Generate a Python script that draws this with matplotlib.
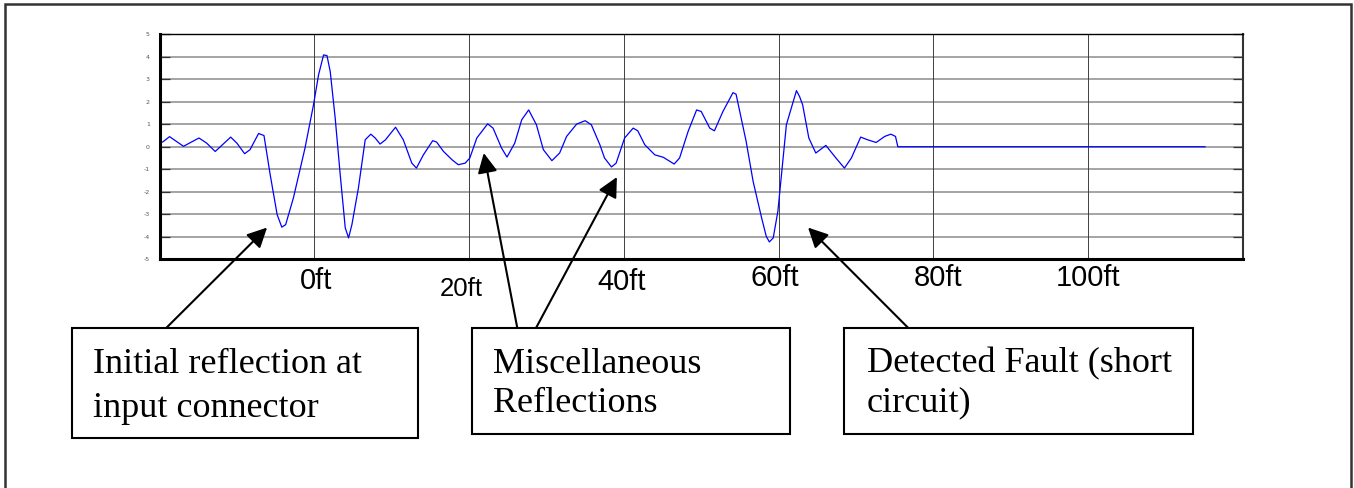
import matplotlib
matplotlib.use("Agg")
import matplotlib.pyplot as plt
import matplotlib.patches as patches
import matplotlib.transforms as mtransforms

plt.rcParams["axes.unicode_minus"] = False

# trace (distance in ft, amplitude)
distance = [-19.6, -18.7, -16.9, -14.9, -13.9, -12.8, -10.8, -10.0, -9.0, -8.3,
            -7.2, -6.5, -5.7, -4.8, -4.2, -3.7, -2.7, -1.8, -1.2, -0.1,
            0.55, 1.2, 1.64, 2.06, 2.7, 3.35, 4.0, 4.43, 4.86, 5.7,
            6.58, 7.3, 7.87, 8.5, 9.2, 10.5, 11.5, 12.6, 13.2, 14.1,
            15.3, 15.8, 16.7, 17.8, 18.6, 19.5, 20.1, 21.0, 22.4, 23.1,
            24.2, 24.9, 25.9, 26.8, 27.7, 28.7, 29.6, 30.7, 31.7, 32.6,
            33.9, 35.0, 35.8, 36.9, 37.5, 38.4, 39.0, 40.1, 41.2, 41.8,
            42.7, 44.0, 45.1, 46.5, 47.2, 48.3, 49.4, 50.0, 51.1, 51.7,
            52.8, 54.1, 54.5, 55.8, 56.7, 57.8, 58.4, 58.8, 59.3, 59.9,
            61.0, 62.3, 62.7, 63.1, 63.9, 64.8, 66.1, 67.4, 68.5, 69.4,
            70.6, 71.5, 72.6, 73.7, 74.5, 75.1, 75.4, 115.1]
amplitude = [0.21, 0.45, 0.02, 0.39, 0.16, -0.21, 0.43, 0.16, -0.31, -0.13,
             0.59, 0.5, -1.24, -3.02, -3.58, -3.47, -2.28, -0.95, -0.06, 1.87,
             3.2, 4.09, 4.06, 3.35, 1.28, -1.24, -3.61, -4.06, -3.47, -1.84,
             0.31, 0.56, 0.39, 0.12, 0.31, 0.87, 0.31, -0.73, -0.95, -0.36,
             0.27, 0.21, -0.21, -0.58, -0.8, -0.73, -0.5, 0.39, 1.02, 0.83,
             -0.06, -0.46, 0.16, 1.2, 1.64, 0.98, -0.13, -0.62, -0.28, 0.46,
             1.01, 1.16, 0.98, 0.09, -0.5, -0.9, -0.73, 0.39, 0.83, 0.71,
             0.09, -0.36, -0.47, -0.77, -0.5, 0.68, 1.64, 1.57, 0.83, 0.71,
             1.57, 2.41, 2.34, 0.24, -1.54, -3.17, -3.99, -4.24, -4.06, -2.88,
             0.98, 2.5, 2.24, 1.87, 0.39, -0.28, 0.06, -0.5, -0.95, -0.5,
             0.43, 0.31, 0.19, 0.46, 0.56, 0.46, 0.0, 0.0]

x_ticks = [-20, 0, 20, 40, 60, 80, 100, 120]
y_ticks = [-5, -4, -3, -2, -1, 0, 1, 2, 3, 4, 5]
ft_values = [0, 20, 40, 60, 80, 100]
ft_labels = ["0ft", "20ft", "40ft", "60ft", "80ft", "100ft"]

box_texts = [["Initial reflection at", "input connector"],
             ["Miscellaneous", "Reflections"],
             ["Detected Fault (short", "circuit)"]]
# arrow tips in data units (distance, amplitude)
arrow_tips = [(-6.1, -3.6), (21.9, -0.28), (39.1, -1.35), (63.8, -3.6)]

# ---- layout (pixels) ----
W, H = 1354, 488
fig = plt.figure(figsize=(W / 100, H / 100), dpi=100)


def fx(x):
    return x / W


def fy(y):
    return 1 - y / H


ax = fig.add_axes([fx(159.5), fy(259), (1243 - 159.5) / W, (259 - 34.5) / H])
ax.plot(distance, amplitude, color="#0000ff", lw=0.9)
ax.set_xlim(-20, 120)
ax.set_ylim(-5, 5)
ax.set_xticks(x_ticks)
ax.set_yticks(y_ticks)
ax.set_xticklabels([])
ax.tick_params(axis="x", length=0)
ax.tick_params(axis="y", direction="in", length=7, width=0.9, color="#333333",
               labelsize=4.5, labelcolor="#555555", pad=7, right=True)
for v in y_ticks:
    ax.axhline(v, color="#8c8c8c", lw=1.1, zorder=0)
for v in x_ticks:
    ax.axvline(v, color="#404040", lw=0.7, zorder=0)
ax.spines["left"].set_linewidth(2.2)
ax.spines["bottom"].set_linewidth(2.2)
ax.spines["top"].set_linewidth(1.0)
ax.spines["right"].set_linewidth(1.5)
ax.spines["right"].set_color("#333333")

# distance labels under the plot
label_dx = [0.26, -1.0, -0.3, -0.5, 0.6, 0.0]
label_y = [281, 288.5, 282, 278.5, 278, 278]
label_size = [21, 18.5, 21, 21, 21, 21]
trans = mtransforms.blended_transform_factory(ax.transData, fig.transFigure)
for v, lab, dx, yy, s in zip(ft_values, ft_labels, label_dx, label_y, label_size):
    ax.text(v + dx, fy(yy), lab, transform=trans, ha="center", va="center",
            fontsize=s, family="Liberation Sans", clip_on=False)

# outer frame
fig.add_artist(patches.Rectangle((fx(5), -0.05), fx(1346), 0.05 + fy(4),
                                 transform=fig.transFigure, fill=False,
                                 edgecolor="#333333", lw=1.8))

# text boxes
boxes = [(71.7, 327.7, 418, 438), (471.7, 328, 790, 434), (844, 328, 1193, 434)]
text_left = [93, 493, 866.7]
baselines = [(372.7, 416.7), (372.7, 411.7), (372.7, 411.7)]
for (x0, y0, x1, y1), lines, tl, bl in zip(boxes, box_texts, text_left, baselines):
    fig.add_artist(patches.Rectangle((fx(x0), fy(y1)), (x1 - x0) / W, (y1 - y0) / H,
                                     transform=fig.transFigure, facecolor="white",
                                     edgecolor="black", lw=1.5))
    for line, b in zip(lines, bl):
        fig.text(fx(tl), fy(b), line, fontsize=26, family="Liberation Serif",
                 va="baseline", ha="left")

# arrows from the boxes to the trace
tails = [(166.7, 327.5), (517.3, 328), (536, 328), (908.3, 328)]
for (tx, ty), tip in zip(tails, arrow_tips):
    ax.annotate("", xy=tip, xycoords="data", xytext=(tx, H - ty),
                textcoords="figure pixels", annotation_clip=False,
                arrowprops=dict(arrowstyle="-|>,head_length=0.6,head_width=0.3",
                                color="black", lw=1.5, shrinkA=0, shrinkB=0,
                                mutation_scale=20))

fig.savefig("out.png", dpi=100)
